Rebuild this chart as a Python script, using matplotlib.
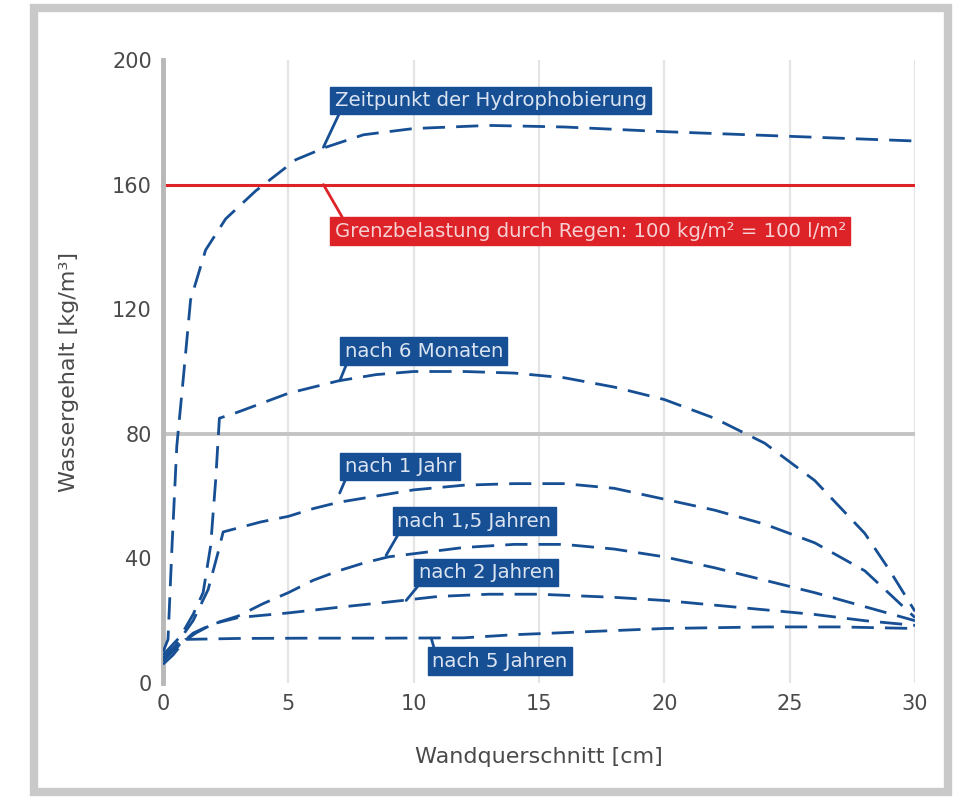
import matplotlib
matplotlib.use("Agg")
import matplotlib.pyplot as plt
from matplotlib.patches import Rectangle

# ---------------- data ----------------
x_ticks = [0, 5, 10, 15, 20, 25, 30]
y_ticks = [0, 40, 80, 120, 160, 200]

series_names = ["Zeitpunkt der Hydrophobierung", "nach 6 Monaten", "nach 1 Jahr",
                "nach 1,5 Jahren", "nach 2 Jahren", "nach 5 Jahren"]

x_hydro = [0, 0.2, 0.36, 0.55, 0.8, 1.1, 1.7, 2.5, 3.7, 5.3, 6.5, 8, 10, 13, 16, 20, 25, 30]
y_hydro = [10, 14, 44, 76, 97, 123, 139, 149, 158, 168, 172, 176, 178, 179, 178.5, 177, 175.5, 174]

x_6m = [0, 0.7, 1.2, 1.6, 1.9, 2.1, 2.25, 3, 4, 5, 7, 8.5, 10, 12, 14, 16, 18, 20, 22, 24, 26, 28, 29, 30]
y_6m = [9, 15, 22, 29, 44, 65, 85, 87, 90, 93, 97, 99, 100, 100, 99.5, 98, 95, 91, 85, 77, 65, 48, 36, 23]

x_1j = [0, 0.5, 1.2, 1.8, 2.2, 2.4, 3.9, 5, 6, 7, 8.5, 10, 12, 14, 16, 18, 20, 22, 24, 26, 28, 30]
y_1j = [8, 12, 20, 30, 42, 48.5, 51.7, 53.5, 56, 58, 60, 62, 63.5, 64, 64, 62.5, 59, 55.5, 51, 45, 36, 21]

x_15j = [0, 0.6, 1.3, 2, 3, 4, 5, 6, 7, 8, 9, 10, 12, 14, 16, 18, 20, 22, 24, 26, 28, 30]
y_15j = [8, 12, 16, 19, 21.5, 25.5, 29, 33, 36, 38.5, 40.5, 41.5, 43.5, 44.5, 44.5, 43, 40.5, 37, 33, 29, 24.5, 20]

x_2j = [0, 0.5, 1.2, 2, 3, 5, 7, 9, 11, 13, 15, 18, 20, 22, 24, 26, 28, 30]
y_2j = [7, 11, 16, 19, 21, 22.5, 24.3, 26, 27.8, 28.5, 28.5, 27.5, 26.5, 25, 23.5, 22, 20, 18.5]

x_5j = [0, 0.4, 0.9, 3, 6, 9, 12, 14, 17, 20, 24, 27, 30]
y_5j = [6, 9, 14, 14.3, 14.4, 14.4, 14.5, 15.5, 16.5, 17.5, 18, 18, 17.5]

limit_value = 160
limit_label = "Grenzbelastung durch Regen: 100 kg/m² = 100 l/m²"

x_label = "Wandquerschnitt [cm]"
y_label = "Wassergehalt [kg/m³]"

# ---------------- style ----------------
BLUE = "#174f94"
RED = "#dd2228"
TXT = "#4a4a4a"

fig = plt.figure(figsize=(9.61, 8.01), dpi=100)
ax = fig.add_axes([163 / 961, 118 / 801, (915 - 163) / 961, (683 - 60) / 801])

# outer frame
fig.patches.append(Rectangle((34 / 961, 9 / 801), (948 - 34) / 961, (793 - 9) / 801,
                             transform=fig.transFigure, fill=False,
                             ec="#c9c9c9", lw=6, zorder=0))

ax.set_xlim(0, 30)
ax.set_ylim(0, 200)
ax.set_xticks(x_ticks)
ax.set_yticks(y_ticks)
ax.tick_params(length=0, labelsize=15, labelcolor=TXT, pad=8)

for s in ["top", "right", "bottom"]:
    ax.spines[s].set_visible(False)
ax.spines["left"].set_color("#b8b8b8")
ax.spines["left"].set_linewidth(3.5)

for xv in x_ticks[1:]:
    ax.axvline(xv, color="#e4e4e4", lw=1.6, zorder=0)
ax.axhline(80, color="#c4c4c4", lw=2.8, zorder=0)

ax.set_xlabel(x_label, fontsize=16, color=TXT, labelpad=24)
ax.set_ylabel(y_label, fontsize=16, color=TXT, labelpad=24)

# red limit line
ax.axhline(limit_value, color=RED, lw=2.2, zorder=2)

curves = [(x_hydro, y_hydro), (x_6m, y_6m), (x_1j, y_1j), (x_15j, y_15j), (x_2j, y_2j), (x_5j, y_5j)]
for xs, ys in curves:
    ax.plot(xs, ys, color=BLUE, lw=2.0, dashes=(8, 4), zorder=3)

FS = 14.2
PAD = 0.22
# labels (text anchor in data units, pointer target in data units)
label_specs = [
    (series_names[0], (6.85, 187), (6.4, 172)),
    (series_names[1], (7.25, 106.5), (7.05, 97)),
    (series_names[2], (7.25, 69.5), (7.05, 61)),
    (series_names[3], (9.35, 52), (8.9, 41)),
    (series_names[4], (10.2, 35.5), (9.7, 26.5)),
    (series_names[5], (10.75, 7), (10.7, 14.4)),
]
for i, (txt, pos, tgt) in enumerate(label_specs):
    rel = (0.02, 1.0) if i == 5 else (0.02, 0.0)
    ax.annotate(txt, xy=tgt, xytext=pos, textcoords="data",
                ha="left", va="center", fontsize=FS, color="#dbe4f1",
                bbox=dict(boxstyle=f"square,pad={PAD}", fc=BLUE, ec=BLUE),
                arrowprops=dict(arrowstyle="-", color=BLUE, lw=2, relpos=rel,
                                shrinkA=0, shrinkB=0),
                zorder=5)

ax.annotate(limit_label, xy=(6.4, 160), xytext=(6.85, 145), textcoords="data",
            ha="left", va="center", fontsize=FS, color="#f6d0d2",
            bbox=dict(boxstyle=f"square,pad={PAD}", fc=RED, ec=RED),
            arrowprops=dict(arrowstyle="-", color=RED, lw=2, relpos=(0.02, 1.0),
                            shrinkA=0, shrinkB=0),
            zorder=5)

fig.savefig("out.png", dpi=100)
